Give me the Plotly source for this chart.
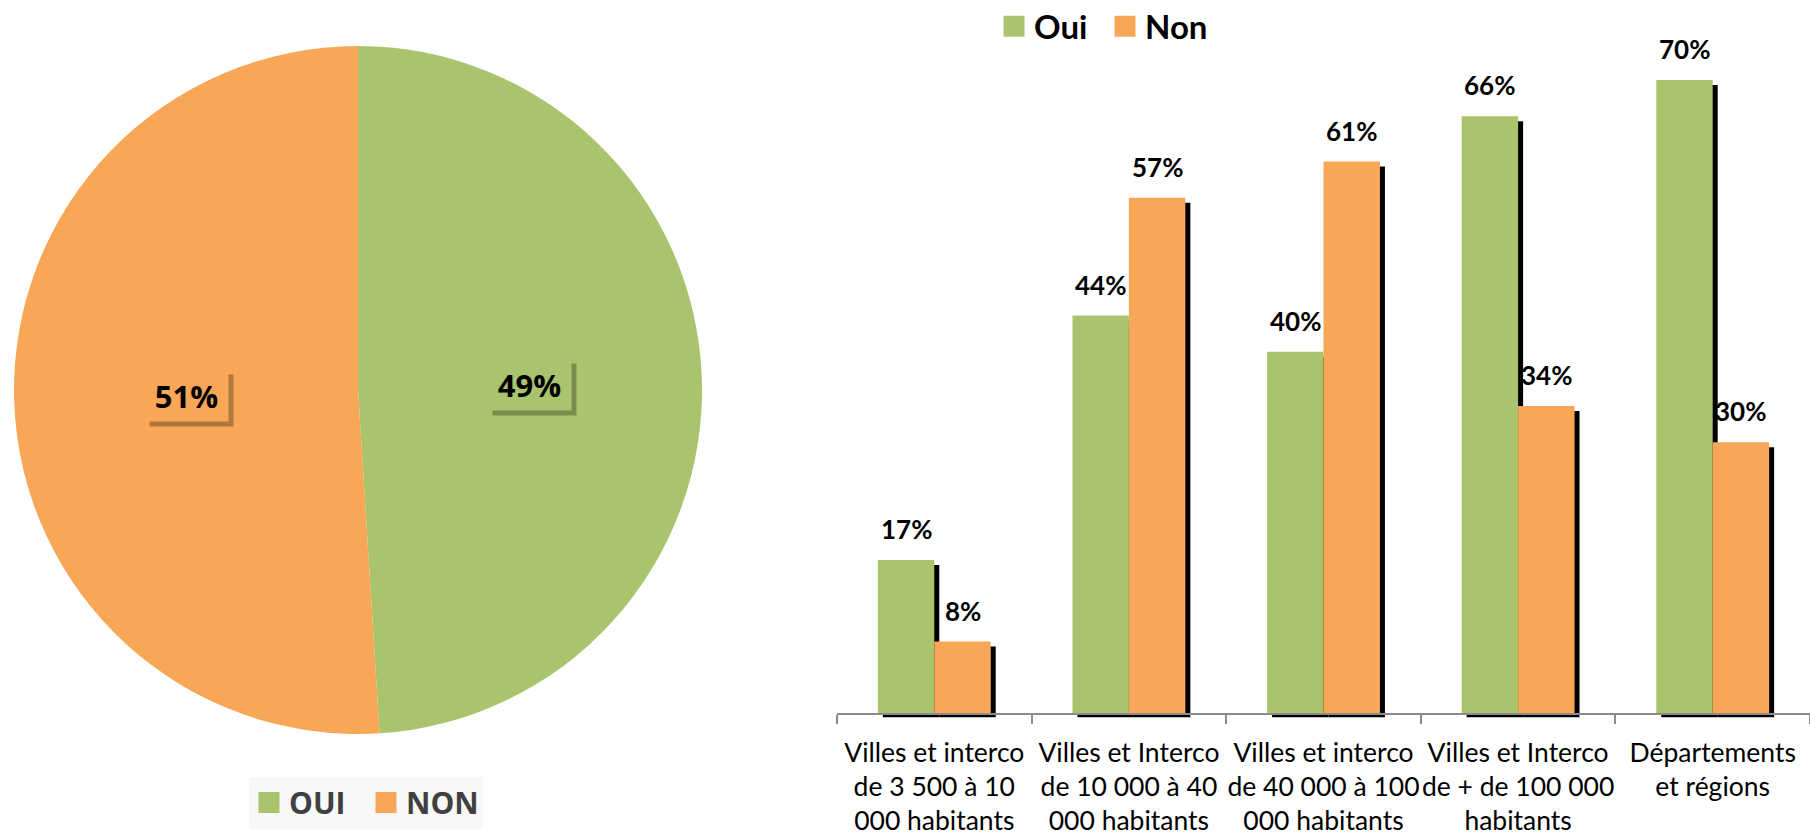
import math
import plotly.graph_objects as go

# ---------------- data ----------------
categories = [
    "Villes et interco<br>de 3 500 à 10<br>000 habitants",
    "Villes et Interco<br>de 10 000 à 40<br>000 habitants",
    "Villes et interco<br>de 40 000 à 100<br>000 habitants",
    "Villes et Interco<br>de + de 100 000<br>habitants",
    "Départements<br>et régions",
]
oui_values = [17, 44, 40, 66, 70]
non_values = [8, 57, 61, 34, 30]
bar_series_names = ["Oui", "Non"]

pie_labels = ["OUI", "NON"]
pie_values = [49, 51]

# ---------------- style ----------------
W, H = 1810, 835
GREEN = "#AAC46D"
ORANGE = "#F8A757"
colors = [GREEN, ORANGE]
AXIS_GRAY = "#8C8C8C"

# bar chart geometry (domains / ranges)
x_dom = [837 / W, 1.0]
y_range = [-0.4, 78]
y_dom = [(H - 717.6) / H, (H - 7.6) / H]
bar_w = 0.29
cat_px = (x_dom[1] - x_dom[0]) * W / len(categories)
shadow_dx = 5 / cat_px
px_per_unit = (y_dom[1] - y_dom[0]) * H / (y_range[1] - y_range[0])
shadow_dy = 5 / px_per_unit
axis_pos = y_dom[0] + (0 - y_range[0]) / (y_range[1] - y_range[0]) * (y_dom[1] - y_dom[0])

# pie geometry
pie_dom_x = [14 / W, 702 / W]
pie_dom_y = [(H - 734) / H, (H - 46) / H]

fig = go.Figure()

series = [oui_values, non_values]
offsets = [-bar_w, 0.0]

# shadows (drawn first, behind bars)
for vals, off in zip(series, offsets):
    fig.add_trace(go.Bar(
        x=categories,
        y=[v - shadow_dy - y_range[0] for v in vals],
        base=y_range[0],
        offset=off + shadow_dx,
        width=bar_w,
        marker=dict(color="black", line=dict(width=0)),
        showlegend=False,
        hoverinfo="skip",
    ))

# main bars
for name, vals, off, col in zip(bar_series_names, series, offsets, colors):
    fig.add_trace(go.Bar(
        x=categories,
        y=vals,
        offset=off,
        width=bar_w,
        name=name,
        marker=dict(color=col, line=dict(width=0)),
        showlegend=False,
    ))

# legend proxies for bar chart (top legend)
for name, col in zip(bar_series_names, colors):
    fig.add_trace(go.Scatter(
        x=[None], y=[None], mode="markers", name=name,
        marker=dict(symbol="square", size=16, color=col, line=dict(color=col, width=5)),
        legend="legend", showlegend=True,
    ))

# pie
fig.add_trace(go.Pie(
    labels=pie_labels,
    values=pie_values,
    marker=dict(colors=colors, line=dict(width=0)),
    sort=False,
    direction="clockwise",
    rotation=0,
    textinfo="none",
    domain=dict(x=pie_dom_x, y=pie_dom_y),
    showlegend=False,
))

# legend proxies for pie legend (bottom)
for name, col in zip(pie_labels, colors):
    fig.add_trace(go.Scatter(
        x=[None], y=[None], mode="markers", name=name,
        marker=dict(symbol="square", size=16, color=col, line=dict(color=col, width=5)),
        legend="legend2", showlegend=True,
    ))

annotations = []
# bar value labels
for vals, off in zip(series, offsets):
    for cat, v in zip(categories, vals):
        annotations.append(dict(
            x=cat, y=v, xref="x", yref="y",
            text=f"<b>{v}%</b>",
            showarrow=False,
            xanchor="center",
            yanchor="bottom",
            xshift=(off + bar_w / 2) * cat_px,
            yshift=13,
            font=dict(family="Lato, Liberation Sans, sans-serif", size=26, color="black"),
        ))

# pie value labels with boxes
cx_px = (pie_dom_x[0] + pie_dom_x[1]) / 2 * W
cy_px = (pie_dom_y[0] + pie_dom_y[1]) / 2 * H
R_px = min((pie_dom_x[1] - pie_dom_x[0]) * W, (pie_dom_y[1] - pie_dom_y[0]) * H) / 2
total = sum(pie_values)
cum = 0
for v, col in zip(pie_values, colors):
    mid = (cum + v / 2) / total
    cum += v
    th = 2 * math.pi * mid
    lx = (cx_px + 0.5 * R_px * math.sin(th)) / W
    ly = (cy_px + 0.5 * R_px * math.cos(th)) / H
    annotations.append(dict(
        x=lx, y=ly, xref="paper", yref="paper", text=" ",
        xanchor="center", yanchor="middle",
        showarrow=False, width=81, height=49, bgcolor="rgba(0,0,0,0.28)",
        xshift=5, yshift=-5,
    ))
    annotations.append(dict(
        x=lx, y=ly, xref="paper", yref="paper",
        text=f"<b>{v}%</b>",
        xanchor="center", yanchor="middle",
        showarrow=False, width=81, height=49, bgcolor=col,
        font=dict(family="Open Sans, DejaVu Sans, sans-serif", size=31, color="black"),
    ))

fig.update_layout(
    width=W, height=H,
    margin=dict(l=0, r=0, t=0, b=0, autoexpand=False),
    paper_bgcolor="white",
    plot_bgcolor="white",
    barmode="overlay",
    xaxis=dict(
        domain=x_dom,
        type="category",
        anchor="free",
        position=axis_pos,
        automargin=False,
        tickangle=0,
        showline=True, linecolor=AXIS_GRAY, linewidth=1.5,
        ticks="outside", tickson="boundaries", ticklen=9, tickcolor=AXIS_GRAY, tickwidth=1.5,
        showgrid=False, zeroline=False,
        ticklabelstandoff=15,
        tickfont=dict(family="Lato, Liberation Sans, sans-serif", size=26.5, color="black"),
    ),
    yaxis=dict(
        domain=y_dom, range=y_range, automargin=False,
        showgrid=False, zeroline=False, showticklabels=False, showline=False,
    ),
    legend=dict(
        orientation="h", x=994 / W, y=1.002, xanchor="left", yanchor="top",
        entrywidth=66, entrywidthmode="pixels",
        font=dict(family="Lato, Liberation Sans, sans-serif", size=33, color="black", weight="bold"),
        bgcolor="rgba(0,0,0,0)",
        itemclick=False, itemdoubleclick=False,
    ),
    legend2=dict(
        orientation="h", x=249 / W, y=(H - 776.5) / H, xanchor="left", yanchor="top",
        entrywidth=72, entrywidthmode="pixels",
        font=dict(family="Open Sans, DejaVu Sans, sans-serif", size=30, color="#404040", weight="bold"),
        bgcolor="#F8F8F8",
        itemclick=False, itemdoubleclick=False,
    ),
    annotations=annotations,
    showlegend=True,
)

fig.write_html(
    "out.html",
    config={"displayModeBar": False},
    post_script="document.body.style.margin='0';document.body.style.overflow='hidden';",
)
